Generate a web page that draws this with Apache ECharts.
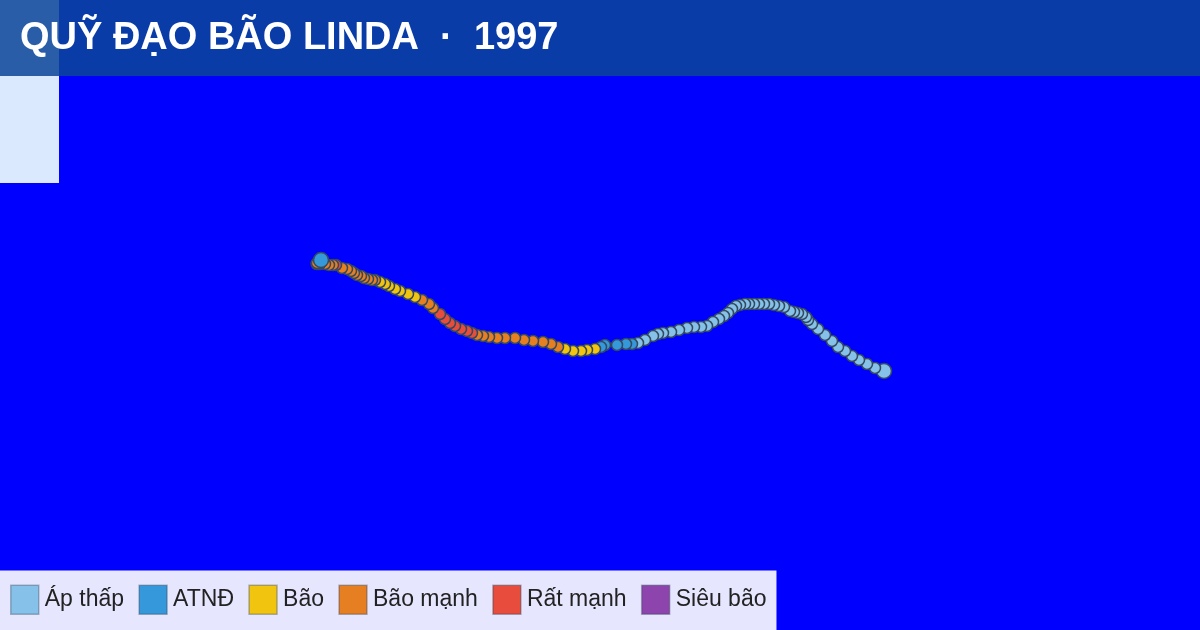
<!DOCTYPE html>
<html lang="vi">
<head>
  <meta charset="utf-8">
  <title>Quỹ đạo bão Linda 1997</title>
  <script src="https://cdn.jsdelivr.net/npm/echarts@6/dist/echarts.min.js"></script>
  <style>
    html, body, #chart { width: 1200px; height: 630px; margin: 0; padding: 0; overflow: hidden; }
  </style>
</head>
<body>
  <div id="chart"></div>
  <script>
    // track, start (east) to end (west), axes are plain lon/lat
    var lon = [124.20,123.75,123.35,122.95,122.60,122.25,121.90,121.60,121.25,120.90,120.60,120.40,120.30,120.10,119.90,119.70,119.50,119.20,118.95,118.70,118.45,118.20,117.95,117.70,117.45,117.25,117.00,116.80,116.60,116.40,116.20,115.95,115.65,115.35,115.05,114.70,114.35,113.95,113.55,113.15,112.90,112.65,112.25,111.90,111.60,111.30,110.85,110.25,110.05,109.75,109.35,109.05,108.65,108.25,107.90,107.55,107.15,106.65,106.20,105.75,105.25,104.85,104.45,104.15,103.85,103.60,103.35,103.05,102.75,102.50,102.25,102.00,101.65,101.45,101.10,100.75,100.40,100.00,99.75,99.45,99.25,99.00,98.75,98.60,98.40,98.20,98.05,97.85,97.70,97.55,97.35,97.10,96.80,96.65,96.45,96.25,96.00,95.90,95.83,95.85,96.05];
    var lat = [12.95,13.10,13.30,13.50,13.70,13.95,14.15,14.45,14.75,15.05,15.30,15.50,15.65,15.80,15.85,15.90,15.95,16.15,16.20,16.25,16.30,16.30,16.30,16.30,16.30,16.30,16.25,16.20,16.05,15.85,15.70,15.55,15.40,15.20,15.15,15.15,15.10,15.00,14.90,14.85,14.80,14.70,14.50,14.35,14.30,14.30,14.25,14.25,14.15,14.05,14.00,13.95,13.95,14.05,14.15,14.30,14.40,14.45,14.50,14.60,14.60,14.60,14.65,14.70,14.75,14.85,14.95,15.05,15.20,15.35,15.55,15.80,16.10,16.30,16.50,16.65,16.80,16.95,17.05,17.20,17.30,17.40,17.50,17.50,17.55,17.60,17.70,17.75,17.85,17.95,18.05,18.10,18.25,18.25,18.25,18.30,18.30,18.30,18.30,18.35,18.50];
    // index into levels for each point above
    var grade = [0,0,0,0,0,0,0,0,0,0,0,0,0,0,0,0,0,0,0,0,0,0,0,0,0,0,0,0,0,0,0,0,0,0,0,0,0,0,0,0,0,0,0,0,1,1,1,1,1,2,2,2,2,2,3,3,3,3,3,3,3,3,3,3,3,4,4,4,4,4,4,4,3,3,3,2,2,2,2,2,2,2,3,3,3,3,3,3,3,3,3,3,4,3,3,3,3,3,3,3,1];
    var levels = ['Áp thấp', 'ATNĐ', 'Bão', 'Bão mạnh', 'Rất mạnh', 'Siêu bão'];
    var levelColors = ['#85c1e9', '#3498db', '#f1c40f', '#e67e22', '#e74c3c', '#8e44ad'];
    var titleText = 'QUỸ ĐẠO BÃO LINDA  ·  1997';

    var chart = echarts.init(document.getElementById('chart'));

    var track = lon.map(function (x, i) {
      var isEnd = i === 0 || i === lon.length - 1;
      return {
        value: [x, lat[i]],
        symbolSize: isEnd ? 15 : 11,
        z: isEnd ? 5 : 3,
        itemStyle: { color: levelColors[grade[i]] }
      };
    });

    // empty series only feed the legend
    var legendSeries = levels.map(function (name, i) {
      return { name: name, type: 'scatter', data: [], itemStyle: { color: levelColors[i], opacity: 1 } };
    });

    chart.setOption({
      backgroundColor: '#0000ff',
      animation: false,
      textStyle: { fontFamily: '"Liberation Sans", Arial, sans-serif' },
      title: {
        text: titleText,
        left: 20, top: 20, padding: 0,
        textStyle: { color: '#fff', fontSize: 38, fontWeight: 'bold', fontFamily: '"Liberation Sans", Arial, sans-serif' }
      },
      grid: { left: 0, right: 0, top: 0, bottom: 0 },
      xAxis: { type: 'value', min: 80, max: 140, show: false },
      yAxis: { type: 'value', min: 0, max: 31.5, show: false },
      legend: {
        left: 0, bottom: 0,
        padding: [14, 10, 15, 10],
        itemWidth: 28, itemHeight: 29, itemGap: 14.3,
        icon: 'rect',
        backgroundColor: '#e6e6ff',
        selectedMode: false,
        itemStyle: { borderColor: 'rgba(44,62,80,0.35)', borderWidth: 1.5 },
        textStyle: { color: '#222', fontSize: 23, padding: [0, 0, 0, 1] },
        data: levels
      },
      graphic: [
        { type: 'rect', z: -2, silent: true, shape: { x: 0, y: 0, width: 59, height: 183 }, style: { fill: '#dbe9ff' } },
        { type: 'rect', z: -1, silent: true, shape: { x: 0, y: 0, width: 1200, height: 76 }, style: { fill: 'rgba(12,70,154,0.86)' } }
      ],
      series: legendSeries.concat([{
        type: 'scatter',
        data: track,
        itemStyle: { borderColor: '#34495e', borderWidth: 1.5, opacity: 1 },
        z: 3
      }])
    });
  </script>
</body>
</html>
